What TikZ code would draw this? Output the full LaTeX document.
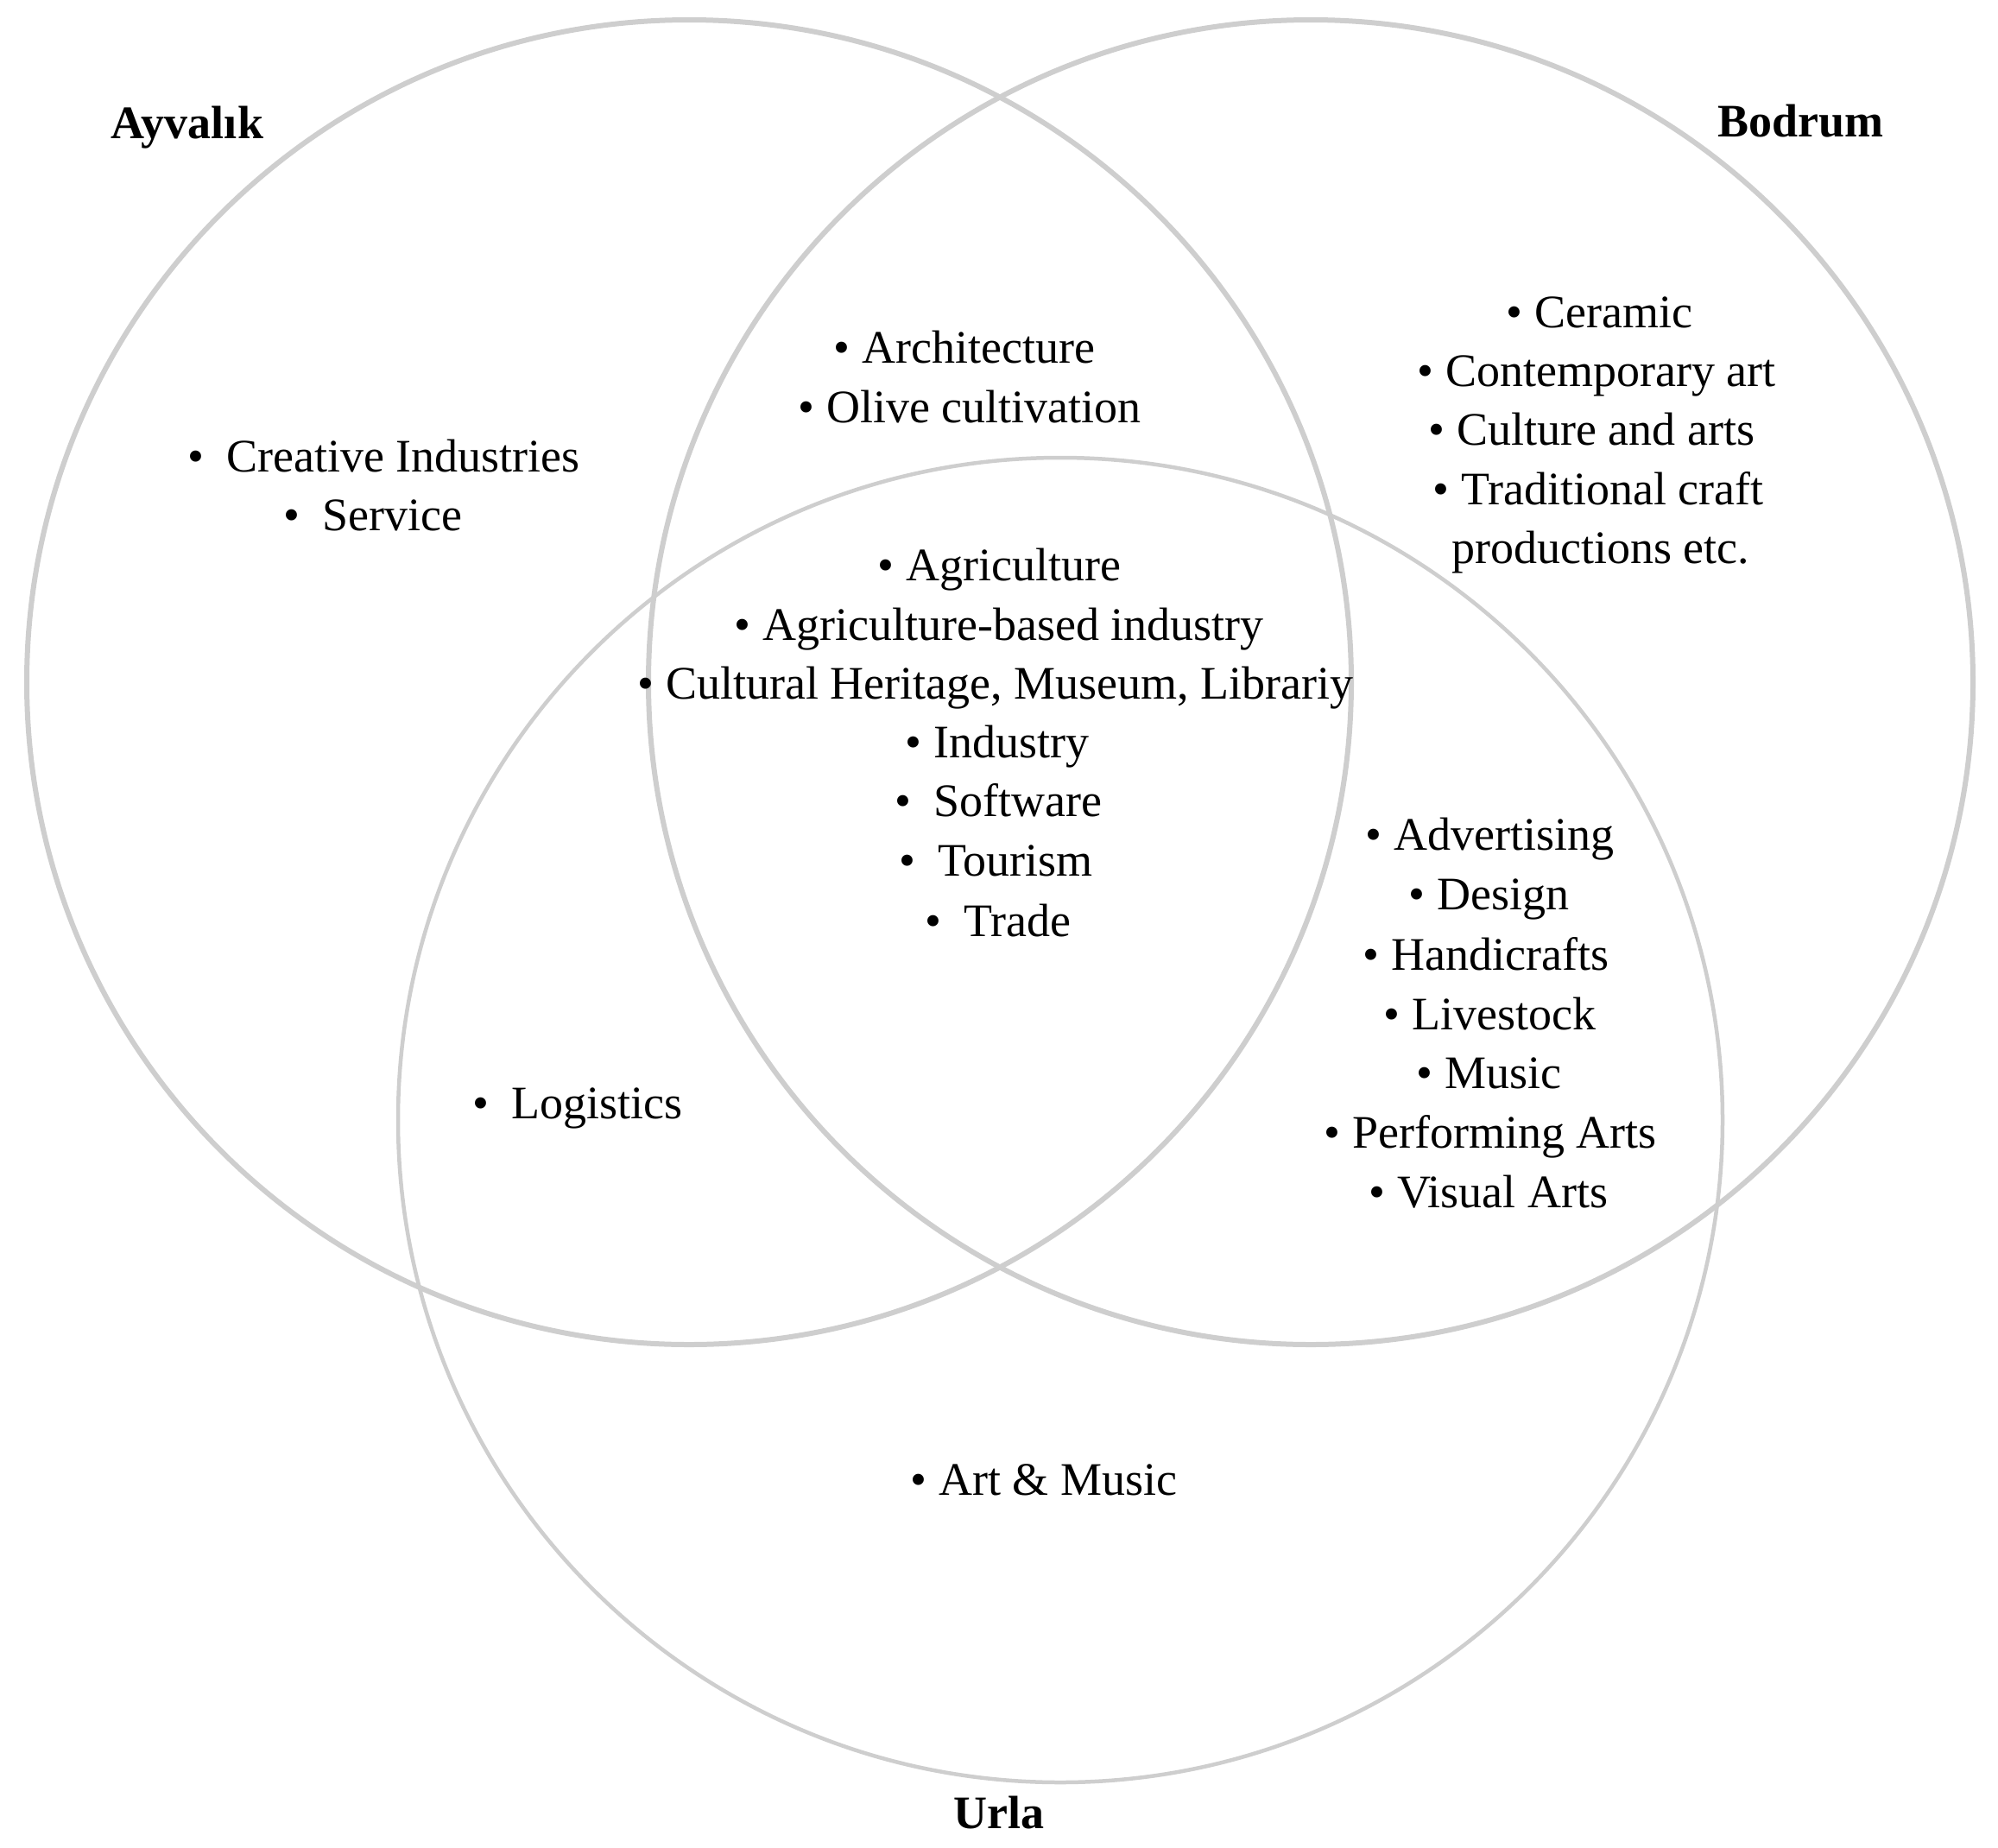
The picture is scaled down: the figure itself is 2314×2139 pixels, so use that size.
\documentclass[tikz,border=0pt]{standalone}
\usepackage{fontspec}
\setmainfont{Liberation Serif}
\definecolor{ringc}{RGB}{206,206,206}
\newcommand\nbul{\llap{•\ }}
\newcommand\wbul{\llap{•\hspace{26pt}}}
\begin{document}
\begin{tikzpicture}[x=1pt,y=-1pt,
  ringthick/.style={draw=ringc, line width=6pt},
  ringthin/.style={draw=ringc, line width=4.5pt},
  item/.style={inner sep=0pt, anchor=base west, font=\fontsize{54}{66}\selectfont},
  city/.style={inner sep=0pt, anchor=base, font=\fontsize{54}{66}\selectfont\bfseries}]
\useasboundingbox (0,0) rectangle (2314,2139);
% circles
\draw[ringthick] (798,790) circle[radius=767pt];
\draw[ringthick] (1518,790) circle[radius=767pt];
\draw[ringthin] (1228,1297) circle[radius=767pt];
% city labels
\node[city] (ayv) at (217,160) {Ayvalık};
\node[city] (bod) at (2085,158) {Bodrum};
\node[city] (url) at (1157,2117) {Urla};
% Ayvalik only
\node[item] (cre) at (262,546) {\wbul Creative Industries};
\node[item] (ser) at (373,614) {\wbul Service};
% Ayvalik & Bodrum
\node[item] (arc) at (998,420) {\nbul Architecture};
\node[item] (oli) at (957,489) {\nbul Olive cultivation};
% all three
\node[item] (agr) at (1049,672) {\nbul Agriculture};
\node[item] (agb) at (883,741) {\nbul Agriculture-based industry};
\node[item] (cul) at (771,809) {\nbul Cultural Heritage, Museum, Librariy};
\node[item] (ind) at (1081,877) {\nbul Industry};
\node[item] (sof) at (1081,945) {\wbul Software};
\node[item] (tou) at (1086,1014) {\wbul Tourism};
\node[item] (tra) at (1116,1084) {\wbul Trade};
% Bodrum only
\node[item] (cer) at (1777,379) {\nbul Ceramic};
\node[item] (con) at (1674,447) {\nbul Contemporary art};
\node[item] (cua) at (1687,515) {\nbul Culture and arts};
\node[item] (trc) at (1692,584) {\nbul Traditional craft};
\node[item] (pro) at (1681,652) {productions etc.};
% Bodrum & Urla
\node[item] (adv) at (1614,984) {\nbul Advertising};
\node[item] (des) at (1664,1053) {\nbul Design};
\node[item] (han) at (1611,1123) {\nbul Handicrafts};
\node[item] (liv) at (1635,1192) {\nbul Livestock};
\node[item] (mus) at (1673,1260) {\nbul Music};
\node[item] (per) at (1566,1329) {\nbul Performing Arts};
\node[item] (vis) at (1618,1398) {\nbul Visual Arts};
% Ayvalik & Urla
\node[item] (log) at (592,1295) {\wbul Logistics};
% Urla only
\node[item] (art) at (1087,1731) {\nbul Art \& Music};
\end{tikzpicture}
\end{document}
